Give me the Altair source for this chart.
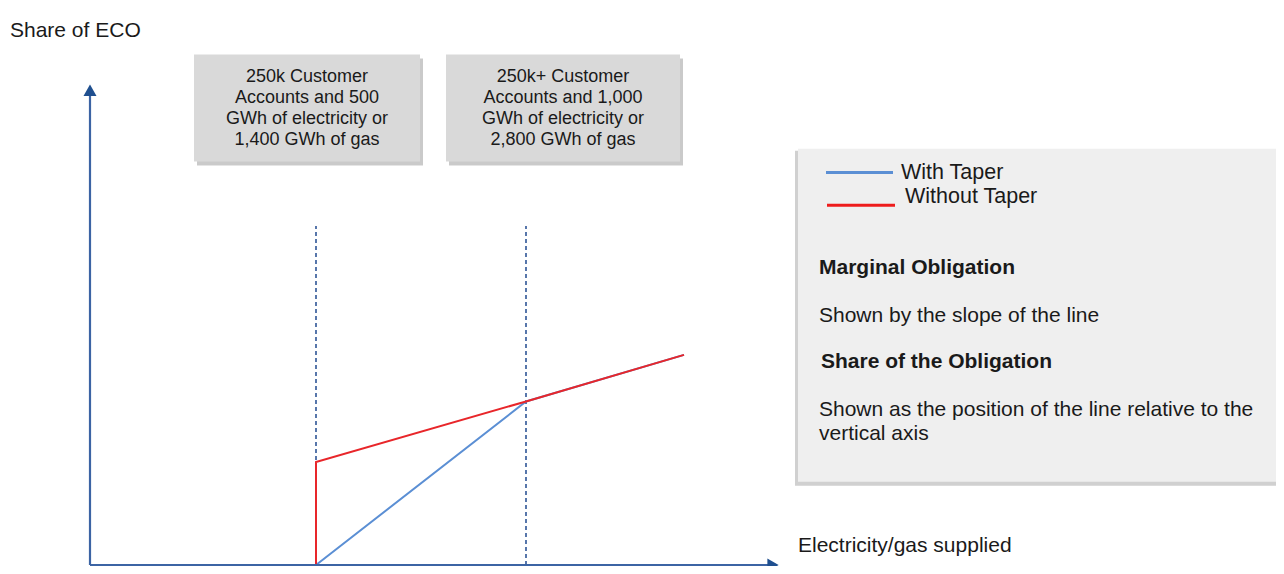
import altair as alt
import pandas as pd

# ---------------- data (x = electricity/gas supplied, y = share of ECO; origin at the axes) ----
thresholds = [226, 436]            # supply thresholds (vertical dashed lines)
threshold_top = 342                # height of dashed threshold lines
with_taper_x = [226, 436, 594]
with_taper_y = [0, 165, 212]
without_taper_x = [226, 226, 436, 594]
without_taper_y = [0, 104, 165, 212]

box_texts = [
    ["250k Customer", "Accounts and 500", "GWh of electricity or", "1,400 GWh of gas"],
    ["250k+ Customer", "Accounts and 1,000", "GWh of electricity or", "2,800 GWh of gas"],
]
legend_labels = ["With Taper", "Without Taper"]
legend_colors = ["#5b8fd4", "#ee1c1c"]
heading_texts = ["Marginal Obligation", "Share of the Obligation"]
body_texts = ["Shown by the slope of the line",
              "Shown as the position of the line relative to the",
              "vertical axis"]
y_title = "Share of ECO"
x_title = "Electricity/gas supplied"

# ---------------- layout constants ----------------
X_DOM = [-82, 1186]
Y_DOM = [-1, 562]
FONT = "Liberation Sans"
AXIS_COLOR = "#3c64a4"
ARROW_COLOR = "#1f4f8f"
TXT_DY = -3   # small downward nudge for text

box_x = [(104, 330), (356, 590)]
box_y = (407, 515)
box_center = [217, 473]
box_line_y = [495, 474, 453, 432]

panel = (708, 1200, 84, 420)
legend_line_x = [(736, 803), (737, 805)]
legend_line_y = [396, 363]
legend_text_pos = [(811, 399), (815, 374)]
heading_pos = [(729, 303), (731, 208)]
body_pos = [(729, 254), (729, 159), (729, 135)]

xs = alt.Scale(domain=X_DOM, nice=False, zero=False)
ys = alt.Scale(domain=Y_DOM, nice=False, zero=False)


def X(f):
    return alt.X(f, type="quantitative", scale=xs, axis=None)


def X2(f):
    return alt.X2(f)


def Y(f):
    return alt.Y(f, type="quantitative", scale=ys, axis=None)


def Y2(f):
    return alt.Y2(f)


layers = []

# box shadows and boxes
shadow_df = pd.DataFrame({"x": [a + 3 for a, b in box_x], "x2": [b + 3 for a, b in box_x],
                          "y": [box_y[0] - 4] * 2, "y2": [box_y[1] - 4] * 2})
layers.append(alt.Chart(shadow_df).mark_rect(color="#bdbdbd", opacity=0.8).encode(
    x=X("x"), x2=X2("x2"), y=Y("y"), y2=Y2("y2")))
box_df = pd.DataFrame({"x": [a for a, b in box_x], "x2": [b for a, b in box_x],
                       "y": [box_y[0]] * 2, "y2": [box_y[1]] * 2})
layers.append(alt.Chart(box_df).mark_rect(color="#d9d9d9").encode(
    x=X("x"), x2=X2("x2"), y=Y("y"), y2=Y2("y2")))

# panel shadow and panel
pshadow = pd.DataFrame({"x": [panel[0] - 3], "x2": [panel[1]], "y": [panel[2] - 4], "y2": [panel[3] - 2]})
layers.append(alt.Chart(pshadow).mark_rect(color="#c4c4c4", opacity=0.8).encode(
    x=X("x"), x2=X2("x2"), y=Y("y"), y2=Y2("y2")))
pdf = pd.DataFrame({"x": [panel[0]], "x2": [panel[1]], "y": [panel[2]], "y2": [panel[3]]})
layers.append(alt.Chart(pdf).mark_rect(color="#efefef").encode(
    x=X("x"), x2=X2("x2"), y=Y("y"), y2=Y2("y2")))

# box texts
rows = []
for bi, lines in enumerate(box_texts):
    for li, t in enumerate(lines):
        rows.append({"x": box_center[bi], "y": box_line_y[li] + TXT_DY, "t": t})
layers.append(alt.Chart(pd.DataFrame(rows)).mark_text(
    font=FONT, fontSize=18, color="#1a1a1a", align="center", baseline="middle").encode(
    x=X("x"), y=Y("y"), text="t:N"))

# legend swatches
sw = pd.DataFrame({"x": [a for a, b in legend_line_x], "x2": [b for a, b in legend_line_x],
                   "y": legend_line_y, "c": legend_colors})
layers.append(alt.Chart(sw).mark_rule(strokeWidth=3).encode(
    x=X("x"), x2=X2("x2"), y=Y("y"), color=alt.Color("c:N", scale=None)))

# legend labels
ll = pd.DataFrame({"x": [p[0] for p in legend_text_pos], "y": [p[1] + TXT_DY for p in legend_text_pos],
                   "t": legend_labels})
layers.append(alt.Chart(ll).mark_text(font=FONT, fontSize=21.5, color="#1a1a1a", align="left",
                                      baseline="middle").encode(x=X("x"), y=Y("y"), text="t:N"))

# headings (bold) and body text
hd = pd.DataFrame({"x": [p[0] for p in heading_pos], "y": [p[1] + TXT_DY for p in heading_pos],
                   "t": heading_texts})
layers.append(alt.Chart(hd).mark_text(font=FONT, fontSize=21, fontWeight="bold", color="#1a1a1a",
                                      align="left", baseline="middle").encode(x=X("x"), y=Y("y"), text="t:N"))
bd = pd.DataFrame({"x": [p[0] for p in body_pos], "y": [p[1] + TXT_DY for p in body_pos], "t": body_texts})
layers.append(alt.Chart(bd).mark_text(font=FONT, fontSize=21, color="#1a1a1a",
                                      align="left", baseline="middle").encode(x=X("x"), y=Y("y"), text="t:N"))

# axis titles
tt = pd.DataFrame({"x": [-80, 708], "y": [542 + TXT_DY, 22 + TXT_DY], "t": [y_title, x_title]})
layers.append(alt.Chart(tt).mark_text(font=FONT, fontSize=21, color="#1a1a1a",
                                      align="left", baseline="middle").encode(x=X("x"), y=Y("y"), text="t:N"))

# dashed threshold lines
th = pd.DataFrame({"x": thresholds, "y": [0] * len(thresholds), "y2": [threshold_top] * len(thresholds)})
layers.append(alt.Chart(th).mark_rule(strokeDash=[4, 3], strokeWidth=1.6, color="#2f5597").encode(
    x=X("x"), y=Y("y"), y2=Y2("y2")))

# with taper (blue) and without taper (red)
wt = pd.DataFrame({"x": with_taper_x, "y": with_taper_y, "i": range(len(with_taper_x))})
layers.append(alt.Chart(wt).mark_line(color=legend_colors[0], strokeWidth=2).encode(
    x=X("x"), y=Y("y"), order="i:Q"))
wo = pd.DataFrame({"x": without_taper_x, "y": without_taper_y, "i": range(len(without_taper_x))})
layers.append(alt.Chart(wo).mark_line(color="#e8262a", strokeWidth=2).encode(
    x=X("x"), y=Y("y"), order="i:Q"))

# axes
ax_v = pd.DataFrame({"x": [0], "y": [0], "y2": [476]})
layers.append(alt.Chart(ax_v).mark_rule(color=AXIS_COLOR, strokeWidth=2.2).encode(
    x=X("x"), y=Y("y"), y2=Y2("y2")))
ax_h = pd.DataFrame({"x": [0], "x2": [680], "y": [0]})
layers.append(alt.Chart(ax_h).mark_rule(color=AXIS_COLOR, strokeWidth=2.2).encode(
    x=X("x"), x2=X2("x2"), y=Y("y")))
arr_up = pd.DataFrame({"x": [0], "y": [479]})
layers.append(alt.Chart(arr_up).mark_point(shape="triangle-up", filled=True, size=170, opacity=1,
                                           color=ARROW_COLOR).encode(x=X("x"), y=Y("y")))
arr_rt = pd.DataFrame({"x": [683], "y": [0]})
layers.append(alt.Chart(arr_rt).mark_point(shape="triangle-right", filled=True, size=170, opacity=1,
                                           color=ARROW_COLOR).encode(x=X("x"), y=Y("y")))

chart = alt.layer(*layers).properties(
    width=1268, height=558, padding=0,
    autosize=alt.AutoSizeParams(type="none"),
    background="white",
).configure_view(stroke=None)

chart.save("out.html", embed_options={"renderer": "svg", "actions": False})
